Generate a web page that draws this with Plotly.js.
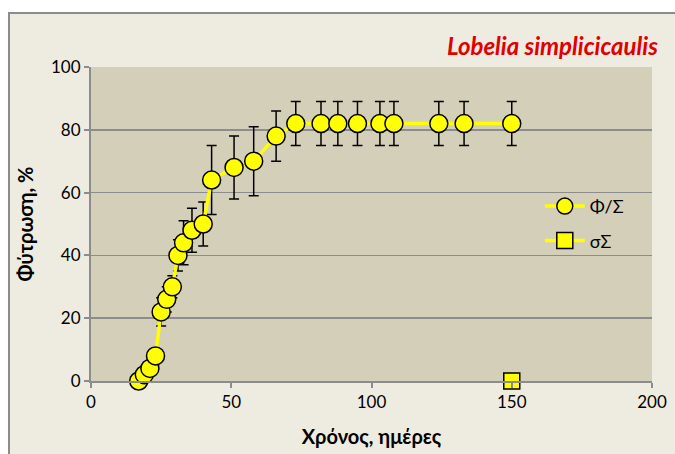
<!DOCTYPE html>
<html><head><meta charset="utf-8">
<script src="https://cdn.plot.ly/plotly-3.0.1.min.js"></script>
<style>
html,body{margin:0;padding:0;background:#fff;width:675px;height:454px;overflow:hidden}
#wrap{position:absolute;left:8px;top:12px;width:667px;height:442px;border-left:2px solid #8c8c8c;border-top:2px solid #8c8c8c;box-sizing:border-box;background:#EEECE1}
#chart{width:665px;height:440px}
</style></head><body>
<div id="wrap"><div id="chart"></div></div>
<script>
const days = [17, 19, 21, 23, 25, 27, 29, 31, 33, 36, 40, 43, 51, 58, 66, 73, 82, 88, 95, 103, 108, 124, 133, 150];
const germination = [0, 2, 4, 8, 22, 26, 30, 40, 44, 48, 50, 64, 68, 70, 78, 82, 82, 82, 82, 82, 82, 82, 82, 82];
const errorVals = [0, 0, 0, 0, 4.5, 4, 3.5, 5, 7, 7, 7, 11, 10, 11, 8, 7, 7, 7, 7, 7, 7, 7, 7, 7];
const sigmaX = [150];
const sigmaY = [0];
const xTicks = [0, 50, 100, 150, 200];
const yTicks = [0, 20, 40, 60, 80, 100];

const font = "Lato, 'Open Sans', sans-serif";
const traces = [
  {x: days, y: germination, name: 'Φ/Σ', legendgroup: 'a', mode: 'lines+markers', type: 'scatter', cliponaxis: false,
   line: {color: '#FFFF00', width: 3.5},
   marker: {symbol: 'circle', size: 18, color: '#FFFF00', line: {color: '#000', width: 1.5}},
   error_y: {type: 'data', array: errorVals, visible: true, color: '#000', thickness: 1.5, width: 5}},
  {x: sigmaX, y: sigmaY, name: 'σΣ', legendgroup: 'b', mode: 'lines+markers', type: 'scatter', cliponaxis: false,
   line: {color: '#FFFF00', width: 3.5},
   marker: {symbol: 'square', size: 16, color: '#FFFF00', line: {color: '#000', width: 1.5}}}
];
const layout = {
  width: 665, height: 440,
  margin: {l: 81, r: 23, t: 53, b: 73},
  paper_bgcolor: '#EEECE1', plot_bgcolor: '#D4CFB8',
  font: {family: font, size: 17, color: '#000'},
  showlegend: true,
  legend: {x: 0.8, y: 0.615, xanchor: 'left', yanchor: 'top', bgcolor: 'rgba(0,0,0,0)', font: {size: 18}, traceorder: 'grouped', tracegroupgap: 8, itemwidth: 40},
  xaxis: {range: [0, 200], tickvals: xTicks, ticktext: xTicks.map(String), showgrid: false, zeroline: false,
    showline: true, linecolor: '#8c8c8c', linewidth: 2, ticks: 'outside', ticklen: 5, tickcolor: '#8c8c8c', tickwidth: 2,
    title: {text: '<b>Χρόνος, ημέρες</b>', font: {size: 20}, standoff: 19}},
  yaxis: {range: [0, 100], tickvals: yTicks, ticktext: yTicks.map(String), showgrid: true, gridcolor: '#8c8c8c', gridwidth: 1.5, zeroline: false,
    showline: true, linecolor: '#8c8c8c', linewidth: 2, ticks: 'outside', ticklen: 5, tickcolor: '#8c8c8c', tickwidth: 2,
    title: {text: '<b>Φύτρωση, %</b>', font: {size: 20}, standoff: 12}},
  annotations: [{text: '<b><i>Lobelia simplicicaulis</i></b>', xref: 'paper', yref: 'paper', x: 1.015, y: 1.07,
    xanchor: 'right', yanchor: 'middle', showarrow: false, font: {size: 24, color: '#E00000', family: font}}]
};
Plotly.newPlot('chart', traces, layout, {displayModeBar: false, staticPlot: true});
</script></body></html>
